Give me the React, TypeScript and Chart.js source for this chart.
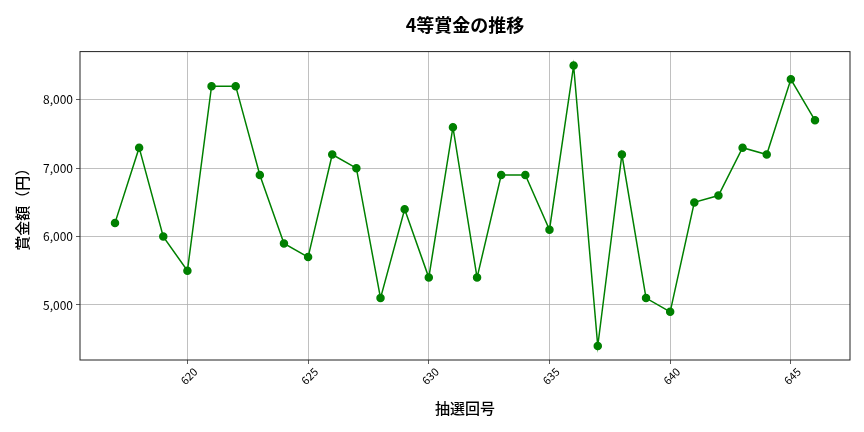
import { useEffect, useRef } from 'react';
import { Chart, registerables } from 'chart.js';

Chart.register(...registerables);

// 抽選回号と4等賞金
const drawNumbers = [617, 618, 619, 620, 621, 622, 623, 624, 625, 626, 627, 628, 629, 630, 631, 632, 633, 634, 635, 636, 637, 638, 639, 640, 641, 642, 643, 644, 645, 646];
const prizeValues = [6200, 7300, 6000, 5500, 8200, 8200, 6900, 5900, 5700, 7200, 7000, 5100, 6400, 5400, 7600, 5400, 6900, 6900, 6100, 8500, 4400, 7200, 5100, 4900, 6500, 6600, 7300, 7200, 8300, 7700];
const xTickValues = [620, 625, 630, 635, 640, 645];
const yTickValues = [5000, 6000, 7000, 8000];

const FONT = "'Noto Sans CJK JP', 'Noto Sans', sans-serif";

// 描画領域の四辺に枠線を描く
const frameBox = {
  id: 'frameBox',
  afterDraw(chart: Chart) {
    const { ctx, chartArea } = chart;
    ctx.save();
    ctx.strokeStyle = '#222';
    ctx.lineWidth = 1;
    ctx.strokeRect(chartArea.left, chartArea.top, chartArea.right - chartArea.left, chartArea.bottom - chartArea.top);
    ctx.restore();
  },
};

const App = () => {
  const chartRef = useRef<HTMLCanvasElement>(null);
  const chartInstance = useRef<Chart | null>(null);

  useEffect(() => {
    if (!chartRef.current) return;
    const ctx = chartRef.current.getContext('2d');
    if (!ctx) return;

    // matplotlib風の5%余白
    const xSpan = drawNumbers[drawNumbers.length - 1] - drawNumbers[0];
    const yMin = Math.min(...prizeValues);
    const yMax = Math.max(...prizeValues);
    const ySpan = yMax - yMin;

    chartInstance.current = new Chart(ctx, {
      type: 'line',
      data: {
        datasets: [{
          label: '4等賞金',
          data: drawNumbers.map((n, i) => ({ x: n, y: prizeValues[i] })),
          borderColor: '#008000',
          backgroundColor: '#008000',
          borderWidth: 1.5,
          pointRadius: 3.5,
          pointHoverRadius: 3.5,
          tension: 0,
        }],
      },
      options: {
        animation: false,
        responsive: true,
        maintainAspectRatio: false,
        layout: { padding: { left: 0, right: 14, top: 0, bottom: 0 } },
        plugins: {
          legend: { display: false },
          tooltip: { enabled: false },
          title: {
            display: true,
            text: '4等賞金の推移',
            fullSize: false,
            color: '#000',
            font: { family: FONT, size: 18, weight: 'bold', lineHeight: 1.2 },
            padding: { top: 14, bottom: 16 },
          },
        },
        scales: {
          x: {
            type: 'linear',
            min: drawNumbers[0] - xSpan * 0.05,
            max: drawNumbers[drawNumbers.length - 1] + xSpan * 0.05,
            afterBuildTicks: (scale) => {
              scale.ticks = xTickValues.map(v => ({ value: v }));
            },
            afterFit: (scale) => {
              scale.height = 72;
            },
            grid: {
              color: '#b0b0b0',
              lineWidth: 0.8,
              tickColor: '#333',
              tickLength: 4,
            },
            border: { display: false },
            ticks: {
              autoSkip: false,
              minRotation: 45,
              maxRotation: 45,
              labelOffset: 8,
              padding: 1,
              color: '#000',
              font: { family: FONT, size: 11 },
              callback: (v) => String(v),
            },
            title: {
              display: true,
              text: '抽選回号',
              color: '#000',
              font: { family: FONT, size: 15, weight: 500, lineHeight: 1.2 },
              padding: { top: 0, bottom: 15 },
            },
          },
          y: {
            type: 'linear',
            min: yMin - ySpan * 0.05,
            max: yMax + ySpan * 0.05,
            afterBuildTicks: (scale) => {
              scale.ticks = yTickValues.map(v => ({ value: v }));
            },
            afterFit: (scale) => {
              scale.width = 80;
            },
            grid: {
              color: '#b0b0b0',
              lineWidth: 0.8,
              tickColor: '#333',
              tickLength: 4,
            },
            border: { display: false },
            ticks: {
              padding: 3,
              color: '#000',
              font: { family: FONT, size: 12 },
              callback: (v) => Number(v).toLocaleString('en-US'),
            },
            title: {
              display: true,
              text: '賞金額（円）',
              color: '#000',
              font: { family: FONT, size: 15, weight: 500, lineHeight: 1.2 },
              padding: { top: 13, bottom: 0 },
            },
          },
        },
      },
      plugins: [frameBox],
    });

    return () => {
      if (chartInstance.current) {
        chartInstance.current.destroy();
        chartInstance.current = null;
      }
    };
  }, []);

  return (
    <div style={{ position: 'absolute', left: 0, top: 0, width: 864, height: 432, background: '#fff' }}>
      <canvas ref={chartRef} />
    </div>
  );
};

export default App;
